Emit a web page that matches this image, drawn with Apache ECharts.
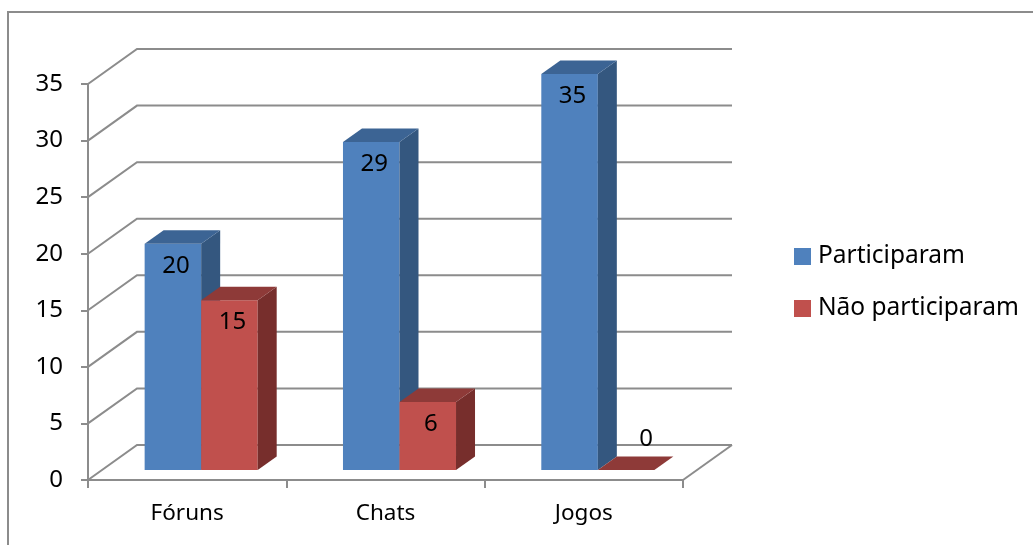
<!DOCTYPE html>
<html>
<head>
<meta charset="utf-8">
<script src="https://cdn.jsdelivr.net/npm/echarts@6/dist/echarts.min.js"></script>
<style>
  html, body { margin: 0; padding: 0; background: #fff; }
  #chart { width: 1033px; height: 545px; }
</style>
</head>
<body>
<div id="chart"></div>
<script>
// dados do grafico
const categories = ['Fóruns', 'Chats', 'Jogos'];
const participaram = [20, 29, 35];
const naoParticiparam = [15, 6, 0];
const yTicks = [0, 5, 10, 15, 20, 25, 30, 35];

const FONT = 'Noto Sans';
const GRAY = '#8c8c8c';
// profundidade da parede (3D fake)
const WALL_DX = 49, WALL_DY = -35;
// deslocamento da face frontal das barras e profundidade delas
const FX = 14, FY = -10;
const BX = 19, BY = -13.5;

const chart = echarts.init(document.getElementById('chart'));

function renderWall(params, api) {
  const cs = params.coordSys;
  const x0 = cs.x, w = cs.width;
  const children = [];
  yTicks.forEach(function (v) {
    const y = api.coord([0, v])[1];
    children.push({
      type: 'polyline',
      shape: { points: [[x0, y], [x0 + WALL_DX, y + WALL_DY], [x0 + w + WALL_DX, y + WALL_DY]] },
      style: { stroke: GRAY, lineWidth: 2, fill: null }
    });
  });
  // canto direito do chao
  const yb = api.coord([0, 0])[1];
  children.push({
    type: 'line',
    shape: { x1: x0 + w, y1: yb, x2: x0 + w + WALL_DX, y2: yb + WALL_DY },
    style: { stroke: GRAY, lineWidth: 2 }
  });
  return { type: 'group', children: children };
}

function makeBarRender(side, colors) {
  return function (params, api) {
    const idx = api.value(0);
    const val = api.value(1);
    const top = api.coord([idx, val]);
    const base = api.coord([idx, 0]);
    const band = api.size([1, 0])[0];
    const bw = band * 0.285;
    const x = (side === 0 ? top[0] - bw : top[0]) + FX;
    const yt = top[1] + FY;
    const yb = base[1] + FY;
    const children = [];
    if (yb - yt > 0) {
      children.push({
        type: 'rect',
        shape: { x: x, y: yt, width: bw, height: yb - yt },
        style: { fill: colors[0] }
      });
      children.push({
        type: 'polygon',
        shape: { points: [[x + bw, yt], [x + bw + BX, yt + BY], [x + bw + BX, yb + BY], [x + bw, yb]] },
        style: { fill: colors[2] }
      });
    }
    children.push({
      type: 'polygon',
      shape: { points: [[x, yt], [x + BX, yt + BY], [x + bw + BX, yt + BY], [x + bw, yt]] },
      style: { fill: colors[1] }
    });
    const zero = val === 0;
    children.push({
      type: 'text',
      style: {
        text: String(val),
        x: zero ? x + bw / 2 + 20 : x + bw / 2 + 3,
        y: zero ? yb - 31 : yt + 22,
        align: 'center',
        verticalAlign: 'middle',
        fontSize: 24,
        fontFamily: FONT,
        fill: '#000'
      }
    });
    return { type: 'group', children: children };
  };
}

const option = {
  backgroundColor: '#fff',
  animation: false,
  graphic: [{
    type: 'rect',
    shape: { x: 8, y: 12, width: 1100, height: 600 },
    style: { fill: null, stroke: GRAY, lineWidth: 2 },
    z: -10
  }],
  grid: { left: 88, right: 350, top: 84, bottom: 65 },
  legend: {
    orient: 'vertical',
    left: 789,
    top: 239,
    itemWidth: 17,
    itemHeight: 17,
    itemGap: 27,
    icon: 'rect',
    textStyle: { fontSize: 24.5, fontFamily: FONT, color: '#000', padding: [0, 0, 0, 2] },
    data: ['Participaram', 'Não participaram']
  },
  xAxis: {
    type: 'category',
    data: categories,
    axisLine: { lineStyle: { color: GRAY, width: 2 } },
    axisTick: { show: true, length: 8, lineStyle: { color: GRAY, width: 2 } },
    axisLabel: { fontSize: 22.5, fontFamily: FONT, color: '#000', margin: 22 }
  },
  yAxis: {
    type: 'value',
    min: 0,
    max: 35,
    interval: 5,
    axisLine: { show: true, lineStyle: { color: GRAY, width: 2 } },
    axisTick: { show: true, length: 7, lineStyle: { color: GRAY, width: 2 } },
    axisLabel: { fontSize: 24, fontFamily: FONT, color: '#000', margin: 25 },
    splitLine: { show: false }
  },
  series: [
    {
      type: 'custom',
      name: 'parede',
      renderItem: renderWall,
      data: [[0, 0]],
      clip: false,
      silent: true,
      z: 1
    },
    {
      type: 'custom',
      name: 'Participaram',
      itemStyle: { color: '#4F81BD' },
      renderItem: makeBarRender(0, ['#4F81BD', '#3C6494', '#34577F']),
      data: participaram.map(function (v, i) { return [i, v]; }),
      clip: false,
      z: 2
    },
    {
      type: 'custom',
      name: 'Não participaram',
      itemStyle: { color: '#C0504D' },
      renderItem: makeBarRender(1, ['#C0504D', '#8E3A38', '#772E2C']),
      data: naoParticiparam.map(function (v, i) { return [i, v]; }),
      clip: false,
      z: 3
    }
  ]
};

chart.setOption(option);
</script>
</body>
</html>
